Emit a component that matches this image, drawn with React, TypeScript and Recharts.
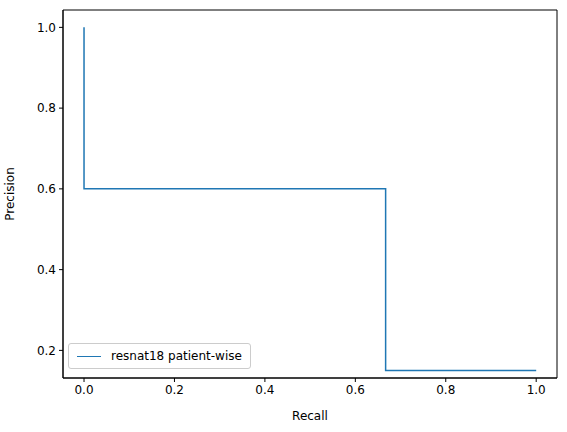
import { LineChart, Line, XAxis, YAxis, ReferenceArea } from 'recharts'

const recall = [0, 0, 0.667, 0.667, 1.0]
const precision = [1.0, 0.6, 0.6, 0.15, 0.15]
const xTicks = [0, 0.2, 0.4, 0.6, 0.8, 1.0]
const yTicks = [0.2, 0.4, 0.6, 0.8, 1.0]
const seriesName = 'resnat18 patient-wise'

const xDomain = [-0.0465, 1.046]
const yDomain = [0.1316, 1.043]

const data = recall.map((r, i) => ({ recall: r, precision: precision[i] }))

const tickStyle = { fontSize: 12, fill: '#000', fontFamily: 'DejaVu Sans' }

const LegendBox = () => (
  <div
    style={{
      position: 'absolute',
      left: 68,
      top: 343,
      border: '1px solid #ccc',
      borderRadius: 3,
      background: '#fff',
      display: 'inline-flex',
      alignItems: 'center',
      padding: '5px 8px',
      fontFamily: 'DejaVu Sans',
      fontSize: 12,
      color: '#000',
    }}
  >
    <span style={{ width: 24, height: 0, borderTop: '1.5px solid #1f77b4', marginRight: 10 }} />
    {seriesName}
  </div>
)

export default function App() {
  return (
    <div style={{ position: 'absolute', left: 0, top: 0, width: 567, height: 432, background: '#fff' }}>
      <LineChart width={567} height={432} data={data} margin={{ top: 10, right: 10, left: 0, bottom: 0 }}>
        <XAxis
          dataKey="recall"
          type="number"
          domain={xDomain}
          ticks={xTicks}
          tickFormatter={(v) => v.toFixed(1)}
          tick={tickStyle}
          stroke="#000"
          tickSize={4}
          tickMargin={3}
          height={54}
          allowDataOverflow
          label={{ value: 'Recall', position: 'insideBottom', offset: 12, style: tickStyle }}
        />
        <YAxis
          type="number"
          domain={yDomain}
          ticks={yTicks}
          tickFormatter={(v) => v.toFixed(1)}
          tick={tickStyle}
          stroke="#000"
          tickSize={4}
          tickMargin={3}
          width={63}
          allowDataOverflow
          label={{ value: 'Precision', angle: -90, position: 'insideLeft', offset: 10, style: { ...tickStyle, textAnchor: 'middle' } }}
        />
        <ReferenceArea
          x1={xDomain[0]}
          x2={xDomain[1]}
          y1={yDomain[0]}
          y2={yDomain[1]}
          fill="none"
          stroke="#000"
          strokeWidth={1}
        />
        <Line
          type="linear"
          dataKey="precision"
          name={seriesName}
          stroke="#1f77b4"
          strokeWidth={1.5}
          dot={false}
          isAnimationActive={false}
        />
      </LineChart>
      <LegendBox />
    </div>
  )
}
